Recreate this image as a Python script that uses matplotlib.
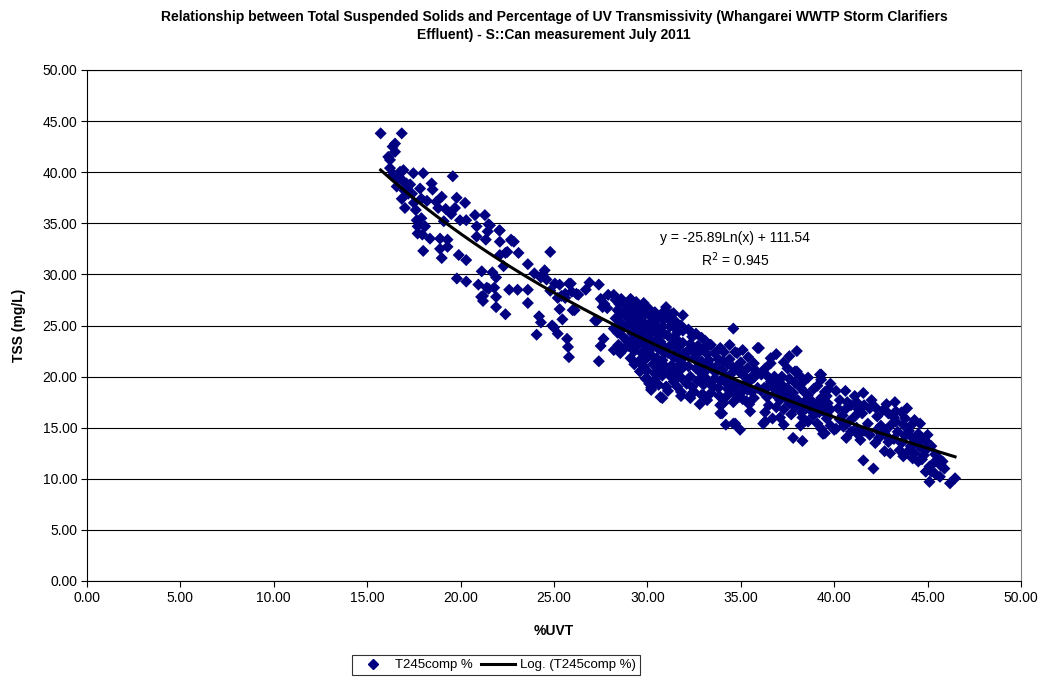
import numpy as np
import matplotlib
matplotlib.use("Agg")
import matplotlib.pyplot as plt
from matplotlib.lines import Line2D

plt.rcParams['font.family'] = ['Liberation Sans', 'DejaVu Sans']

# ---- data ----
uvt_a = [15.72,16.85,16.49,16.36,16.13,16.49,16.22,16.22,16.76,16.94,17.47,18.0,19.58,16.58,16.94,17.3,17.83,18.45,18.5,16.85,
         17.4,17.9,18.99,19.79,20.24,17.02,17.6,18.8,19.2,19.7,19.5,19.97,20.3,20.77,21.3,17.65,17.9,17.7,18.1,20.86,
         21.5,17.7,17.95,20.86,21.45,22.1,22.7,22.85,24.8,18.36,18.9,19.3,21.35,18.0,18.9,19.3,18.99,19.9,20.3,21.13,
         21.7,21.9,22.3,22.1,22.5,23.1,23.6,23.95,24.4,19.8,20.3,20.95,21.4,21.8,23.05,23.6,21.2,21.57,22.07,22.73,
         22.1,22.4,24.5,24.3,24.6,21.5,22.6,21.1,21.9,21.2,21.9,23.6,22.4,24.2,24.3,24.9,24.07,24.8,
         16.4,16.7,17.1,17.2,16.6,17.0,17.5,18.2,18.7,19.1]
tss_a = [43.8,43.8,42.8,42.5,41.5,42.0,41.2,40.4,40.05,40.2,39.9,39.9,39.6,38.6,39.1,38.8,38.4,38.9,38.3,37.4,
         37.9,37.4,37.6,37.5,37.0,36.5,36.3,36.5,36.4,36.5,35.9,35.3,35.3,35.8,35.8,35.3,35.5,34.7,34.7,34.7,
         34.9,34.0,33.9,33.7,34.2,34.3,33.4,33.2,32.2,33.5,33.5,33.4,33.4,32.3,32.5,32.7,31.6,31.9,31.4,30.3,
         30.2,29.7,30.8,31.9,32.2,32.1,31.0,30.1,30.0,29.6,29.3,29.0,28.7,28.7,28.5,28.5,27.9,34.8,34.3,33.3,
         33.2,32.1,30.4,29.7,29.5,28.6,28.5,27.8,27.8,27.4,26.8,27.2,26.1,25.9,25.3,25.0,24.1,28.4,
         39.8,39.5,38.9,37.9,39.3,38.2,37.0,37.2,37.1,35.2]

uvt_b = [25.3,25.9,25.4,25.05,25.8,26.9,27.4,25.95,26.3,26.7,25.2,25.6,27.5,25.3,26.1,27.7,27.85,25.45,27.2,25.0,
         25.2,25.7,25.75,25.8,27.65,27.5,27.4,26.0,27.3,27.6,26.2,25.6,27.9]
tss_b = [29.0,29.1,27.9,29.1,29.1,29.2,29.0,28.3,28.0,28.5,27.7,27.7,27.6,26.6,26.5,27.1,26.7,25.6,25.5,24.8,
         24.2,23.7,22.9,21.9,23.7,23.0,21.5,26.5,25.5,26.8,28.1,28.1,28.0]

uvt_c = [28.2,28.5,28.45,28.55,29.3,29.2,29.4,29.0,28.5,28.2,29.2,29.9,30.5,31.4,31.5,30.5,29.8,29.2,29.4,30.0,
         29.6,29.8,30.0,30.2,30.7,31.0,30.7,31.2,30.9,31.9,31.3,29.96,29.9,30.4,30.2,30.8,31.0,31.8,
         28.3,28.6,28.8,28.4,28.7,28.9,28.3,28.6,28.9,28.4,28.7,28.9,28.2,28.8,28.6,28.9,
         29.1,29.5,29.8,29.3,29.6,29.9,29.1,29.4,29.7,29.2,29.5,29.8,29.1,29.4,29.7,29.3,29.6,29.9,29.2,29.5,
         29.8,29.3,29.7,29.1,29.9,29.5,29.0,29.6,
         30.1,30.4,30.7,30.2,30.5,30.9,30.1,30.4,30.8,30.2,30.6,30.9,30.1,30.4,30.7,30.3,30.6,30.9,30.2,30.5,
         30.8,30.3,30.6,30.9,30.4,30.8,30.1,30.6,30.95,30.0,
         31.1,31.5,31.8,31.2,31.6,31.9,31.1,31.4,31.7,31.2,31.5,31.8,31.1,31.4,31.7,31.3,31.6,31.9,31.2,31.5,
         31.8,31.4,31.1,31.6,31.9,31.0]
tss_c = [28.0,27.1,23.1,22.3,21.2,27.3,27.3,26.8,26.0,24.7,26.0,26.2,25.5,26.2,24.7,24.4,24.4,24.2,22.9,22.6,
         21.6,21.0,19.8,18.9,18.0,19.0,20.6,20.1,22.3,23.3,26.1,20.6,19.8,19.7,18.7,17.9,19.0,18.1,
         27.5,27.6,27.2,26.5,26.3,25.8,25.7,25.2,24.9,24.3,23.9,23.5,22.6,22.8,24.6,26.6,
         27.6,27.0,27.2,26.5,26.4,26.7,25.6,25.7,25.9,25.1,25.2,25.3,24.6,24.7,24.8,23.8,24.0,23.7,23.3,23.4,
         23.2,22.5,22.3,21.8,21.7,26.0,23.0,20.5,
         26.6,26.3,26.0,25.8,25.9,25.6,25.1,25.0,24.9,24.3,24.1,24.2,23.6,23.5,23.4,22.9,22.7,22.9,22.1,21.8,
         21.6,21.2,21.0,21.1,20.3,20.1,19.3,19.2,26.5,24.9,
         25.7,25.4,25.0,24.9,24.3,24.5,24.0,23.7,23.4,23.0,22.8,22.5,22.3,21.9,21.6,21.1,20.9,21.2,20.5,20.3,
         19.9,19.5,18.6,19.0,26.0,26.8]

uvt_d = [32.4,32.0,31.8,32.1,32.3,32.5,31.8,33.0,32.7,33.2,33.35,33.8,34.1,34.7,34.4,34.0,33.6,33.2,33.8,34.07,
         33.9,34.2,34.6,34.96,34.6,35.97,35.0,35.35,35.7,36.1,35.35,34.6,35.1,32.3,32.9,33.9,34.0,34.7,35.5,34.8,
         35.9,33.4,
         32.2,32.6,32.9,32.3,32.7,33.1,32.2,32.5,32.9,32.2,32.6,32.9,32.3,32.7,33.0,32.4,33.3,33.6,33.9,33.4,
         33.7,33.1,33.5,33.9,33.4,34.3,34.6,34.9,34.2,34.5,34.8,34.3,34.6,34.9,34.2,35.2,35.5,35.8,35.2,35.6,
         35.9,35.3,35.7,35.4,35.7,35.1,33.2,32.8,34.4,33.0,
         32.45,32.85,33.25,33.65,34.05,34.45,34.85,35.25,35.65,33.45,33.85,34.25,34.65,35.05,35.45]
tss_d = [23.9,22.0,20.7,19.3,18.2,18.5,18.5,18.2,22.3,22.2,23.1,21.7,22.4,22.4,21.7,20.6,19.8,20.7,18.9,17.4,
         16.4,15.3,15.4,14.8,24.7,22.8,21.4,20.8,19.9,20.2,18.7,17.5,17.8,17.9,18.2,17.2,16.4,15.4,16.6,22.3,
         22.8,23.1,
         24.6,24.2,23.8,23.2,23.0,23.5,22.6,21.8,21.5,21.0,20.8,20.3,20.0,19.6,19.2,19.0,21.6,22.3,22.8,20.9,
         21.0,19.9,19.0,19.6,18.4,21.2,20.9,20.5,20.0,19.6,19.2,18.8,18.4,18.0,18.0,20.0,19.6,20.6,19.0,18.5,
         18.9,17.6,17.9,21.9,21.3,22.6,17.7,17.3,23.1,22.7,
         22.4,20.6,21.3,20.4,21.5,20.2,21.0,19.3,20.1,19.5,18.1,19.3,18.9,18.5,17.3]

uvt_e = [36.6,37.3,37.9,39.3,38.0,37.5,38.0,39.24,39.3,38.3,36.8,36.4,36.3,37.3,37.8,38.3,38.9,39.6,36.2,36.7,
         36.25,38.4,38.8,39.3,39.7,37.1,37.5,36.1,38.9,39.6,39.5,39.4,36.6,
         36.3,36.6,36.9,36.4,36.8,36.5,36.9,36.3,37.2,37.6,37.9,37.3,37.8,37.2,37.6,37.9,37.3,37.7,37.1,38.2,
         38.6,38.2,38.6,38.2,38.5,38.8,38.3,38.6,38.2,39.1,39.5,39.8,39.1,39.5,39.8,39.2,39.6,39.1,39.8,39.3,
         37.6,36.9,
         36.45,36.85,37.25,37.65,38.05,38.45,38.85,39.25,39.65,37.05,37.45,38.25]
tss_e = [21.3,21.4,20.5,20.2,22.5,20.8,20.5,20.2,19.7,19.4,20.0,20.1,15.6,15.3,14.0,13.7,18.8,18.1,15.4,15.9,
         18.9,18.5,17.6,17.9,18.8,17.7,18.9,18.6,16.2,15.9,14.45,14.4,21.8,
         20.8,19.5,19.2,18.0,18.3,17.2,17.0,16.5,20.0,19.8,19.4,19.0,18.4,18.2,17.4,17.0,16.8,16.3,16.0,20.0,
         19.9,18.9,18.2,17.3,16.9,16.6,16.0,15.6,15.2,19.1,18.5,19.3,17.2,17.0,16.8,16.5,16.3,15.4,15.2,14.9,
         22.0,22.2,
         19.0,18.7,18.6,18.0,17.7,17.6,17.2,17.6,17.4,19.6,17.9,16.5]

uvt_f = [40.1,40.6,41.1,41.56,42.0,42.8,43.25,43.3,44.3,43.8,40.45,40.1,40.65,41.4,41.56,42.1,42.2,42.7,42.8,43.5,
         43.7,44.4,44.5,44.8,44.9,45.1,45.1,45.66,45.4,45.9,46.2,46.47,45.8,45.2,44.9,41.1,41.8,42.3,42.5,43.0,
         44.0,44.5,41.3,40.0,
         40.3,40.7,40.2,40.6,40.9,40.3,40.8,40.5,40.9,41.2,41.6,41.9,41.5,41.2,41.6,41.9,41.3,42.2,42.6,42.9,
         42.3,42.7,42.4,42.9,43.2,43.6,43.9,43.3,43.7,43.4,43.8,43.2,43.6,44.1,44.6,44.2,44.7,44.1,44.6,44.3,
         44.9,45.0,45.2,45.4,45.6,45.3,45.7,44.7,44.2,43.0,43.9]
tss_f = [18.6,18.6,18.1,18.4,17.7,17.3,17.5,16.6,15.75,15.9,16.2,14.9,14.0,13.8,11.8,11.0,13.5,12.7,14.2,12.8,
         12.2,13.6,11.7,12.3,12.8,11.2,9.7,10.2,10.5,11.0,9.56,10.05,11.7,10.7,10.7,16.1,15.4,16.1,15.2,15.2,
         14.7,14.4,16.8,14.8,
         17.7,17.5,16.9,16.8,17.2,15.8,15.6,15.1,14.6,17.5,17.2,16.9,16.4,15.0,14.7,14.3,14.3,17.0,16.7,16.4,
         14.8,14.6,14.0,13.6,16.0,16.5,16.9,15.6,15.3,14.6,14.2,13.9,13.5,15.2,15.4,14.0,14.0,13.2,13.1,12.5,
         13.7,14.3,13.2,12.4,12.0,11.5,11.3,11.9,12.0,12.5,12.6]

# logarithmic trendline coefficients shown on the chart
log_slope = -25.89
log_intercept = 111.54
r_squared = 0.945

x_ticks = [0, 5, 10, 15, 20, 25, 30, 35, 40, 45, 50]
y_ticks = [0, 5, 10, 15, 20, 25, 30, 35, 40, 45, 50]

uvt = np.array(uvt_a + uvt_b + uvt_c + uvt_d + uvt_e + uvt_f)
tss = np.array(tss_a + tss_b + tss_c + tss_d + tss_e + tss_f)

# ---- figure ----
W, H = 1045, 679
fig = plt.figure(figsize=(W / 100, H / 100), dpi=100)
ax = fig.add_axes([87 / W, 1 - 581 / H, (1021 - 87) / W, (581 - 70) / H])

navy = '#000080'
ax.scatter(uvt, tss, marker='D', s=38, color=navy, edgecolors='none', zorder=3,
           label='T245comp %')

xt = np.linspace(uvt.min(), uvt.max(), 200)
ax.plot(xt, log_slope * np.log(xt) + log_intercept, color='black', lw=2.2, zorder=4,
        label='Log. (T245comp %)')

ax.set_xlim(0, 50)
ax.set_ylim(0, 50)
ax.set_xticks(x_ticks)
ax.set_yticks(y_ticks)
ax.set_xticklabels([f"{v:.2f}" for v in x_ticks], fontsize=10)
ax.set_yticklabels([f"{v:.2f}" for v in y_ticks], fontsize=10)
ax.tick_params(direction='out', length=4, width=0.8, color='black', pad=3)
ax.yaxis.grid(True, color='black', lw=0.8, zorder=0)
ax.set_axisbelow(True)
for s in ['left', 'bottom', 'top']:
    ax.spines[s].set_color('black')
    ax.spines[s].set_linewidth(0.8)
ax.spines['right'].set_color('#808080')
ax.spines['right'].set_linewidth(0.8)

ax.set_xlabel('%UVT', fontsize=10, fontweight='bold', labelpad=14)
ax.set_ylabel('TSS (mg/L)', fontsize=10, fontweight='bold', labelpad=12)

fig.text(554 / W, 1 - 26 / H,
         'Relationship between Total Suspended Solids and Percentage of UV Transmissivity (Whangarei WWTP Storm Clarifiers\n'
         'Effluent) - S::Can measurement July 2011',
         ha='center', va='center', fontsize=10, fontweight='bold', linespacing=1.45)

fig.text(735 / W, 1 - 238 / H, f'y = {log_slope:.2f}Ln(x) + {log_intercept:.2f}',
         ha='center', va='center', fontsize=10)
fig.text(735 / W, 1 - 260 / H, f'R$^2$ = {r_squared:.3f}',
         ha='center', va='center', fontsize=10)

handles = [Line2D([], [], marker='D', color=navy, linestyle='none', markersize=5),
           Line2D([], [], color='black', lw=2.2)]
leg = fig.legend(handles, ['T245comp %', 'Log. (T245comp %)'], loc='center',
                 bbox_to_anchor=(496 / W, 1 - 665 / H), ncol=2, fontsize=9.5,
                 frameon=True, fancybox=False, edgecolor='black', borderpad=0.3,
                 handlelength=2.6, columnspacing=0.6, handletextpad=0.4)
leg.get_frame().set_linewidth(0.8)

fig.savefig('out.png', dpi=100)
